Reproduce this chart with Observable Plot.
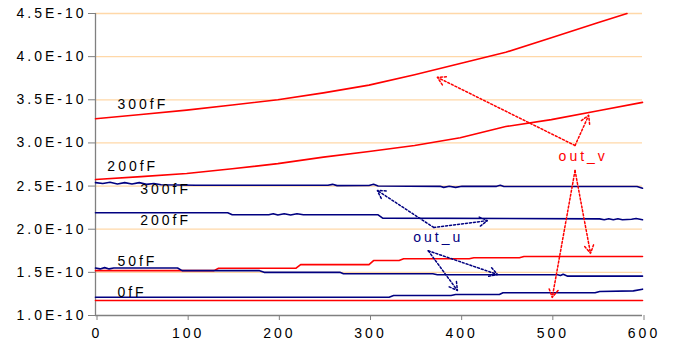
<!DOCTYPE html>
<html>
<head>
<meta charset="utf-8">
<script src="https://cdn.jsdelivr.net/npm/d3@7"></script>
<script src="https://cdn.jsdelivr.net/npm/@observablehq/plot@0.6"></script>
<style>
  html, body { margin: 0; padding: 0; background: #fff; }
  #chart svg { display: block; }
  #chart svg text { letter-spacing: 3px; }
</style>
</head>
<body>
<div id="chart"></div>
<script>
// Values in units of 1E-10
const yTicks = [1.0, 1.5, 2.0, 2.5, 3.0, 3.5, 4.0, 4.5];
const xTicks = [0, 100, 200, 300, 400, 500, 600];

// out_v (red) series: [x, y]
const outV300 = [[0,3.28],[50,3.33],[100,3.38],[150,3.44],[200,3.50],[250,3.58],[300,3.67],[350,3.79],[400,3.92],[450,4.05],[500,4.22],[550,4.39],[583,4.50]];
const outV200 = [[0,2.576],[50,2.61],[100,2.645],[150,2.70],[200,2.76],[250,2.835],[300,2.90],[350,2.97],[400,3.06],[450,3.19],[500,3.27],[550,3.37],[600,3.47]];
const outV50 = [[0,1.52],[130,1.52],[135,1.548],[220,1.548],[225,1.59],[300,1.59],[305,1.637],[333,1.637],[338,1.657],[410,1.657],[415,1.669],[465,1.669],[470,1.684],[600,1.684]];
const outV0 = [[0,1.174],[600,1.174]];

// out_u (navy) series: [x, y]
const outU300 = [[0,2.54],[8,2.53],[16,2.545],[24,2.525],[32,2.54],[40,2.525],[48,2.54],[56,2.52],[64,2.53],[72,2.515],[110,2.51],[255,2.51],[260,2.52],[265,2.505],[300,2.507],[305,2.52],[310,2.50],[378,2.497],[382,2.485],[388,2.497],[395,2.485],[402,2.497],[440,2.497],[444,2.51],[448,2.495],[594,2.495],[600,2.475]];
const outU200 = [[0,2.19],[145,2.19],[150,2.167],[190,2.167],[195,2.18],[200,2.165],[207,2.18],[214,2.165],[221,2.18],[228,2.167],[310,2.167],[315,2.128],[553,2.12],[558,2.11],[563,2.122],[568,2.11],[573,2.122],[578,2.11],[588,2.115],[593,2.125],[600,2.11]];
const outU50 = [[0,1.55],[5,1.54],[10,1.555],[15,1.54],[20,1.55],[90,1.55],[95,1.52],[180,1.52],[185,1.50],[268,1.50],[272,1.483],[370,1.483],[375,1.472],[507,1.472],[510,1.463],[513,1.478],[518,1.456],[600,1.456]];
const outU0 = [[0,1.212],[322,1.212],[327,1.232],[390,1.232],[395,1.243],[443,1.243],[447,1.263],[548,1.263],[553,1.278],[590,1.285],[600,1.305]];

// Curve labels: [x, y, text]
const curveLabels = [[24,3.445,"300fF"],[13,2.727,"200fF"],[49,2.46,"300fF"],[49,2.10,"200fF"],[24,1.626,"50fF"],[24,1.267,"0fF"]];

// Annotation labels and arrows: [x1, y1, x2, y2]
const annV = [[535,2.84,"out_v"]];
const annU = [[376,1.90,"out_u"]];
const arrowsV = [[526,2.97,375,3.76],[526,2.97,541,3.32],[526,2.68,543,1.72],[526,2.68,501,1.21]];
const arrowsU = [[371,2.02,309,2.45],[371,2.02,430,2.10],[365,1.75,441,1.475],[365,1.75,397,1.29]];

const RED = "#ff0000", NAVY = "#000080";
const toRows = (arr, s) => arr.map(([x, y]) => ({x, y, s}));
const series = [
  ...toRows(outV300, "v300"), ...toRows(outV200, "v200"), ...toRows(outV50, "v50"), ...toRows(outV0, "v0"),
  ...toRows(outU300, "u300"), ...toRows(outU200, "u200"), ...toRows(outU50, "u50"), ...toRows(outU0, "u0")
];
const colorOf = s => s[0] === "v" ? RED : NAVY;
const arrowRows = (arr, c) => arr.map(([x1, y1, x2, y2]) => ({x1, y1, x2, y2, c}));

const font = "'Liberation Sans', Arial, sans-serif";

const chart = Plot.plot({
  width: 673,
  height: 349,
  marginLeft: 95,
  marginRight: 31,
  marginTop: 13,
  marginBottom: 34,
  style: {fontFamily: font, fontSize: "14px", color: "#000", background: "#fff", overflow: "visible"},
  x: {domain: [0, 600], ticks: xTicks},
  y: {domain: [1.0, 4.5], ticks: yTicks},
  marks: [
    Plot.gridY(yTicks.filter(d => d > 1.0), {stroke: "#ffd8a8", strokeOpacity: 1, strokeWidth: 1.3}),
    Plot.axisY(yTicks, {tickSize: 7, tickPadding: 2, stroke: "#808080", fill: "#000", tickFormat: d => d.toFixed(1) + "E-10", label: null, fontSize: 14}),
    Plot.axisX(xTicks, {tickSize: 5, tickPadding: 8, stroke: "#808080", fill: "#000", tickFormat: d => String(d), label: null, fontSize: 14, dx: 1.5}),
    Plot.ruleX([0], {stroke: "#808080", strokeWidth: 1.3}),
    Plot.ruleY([1.0], {stroke: "#808080", strokeWidth: 1.3}),
    Plot.line(series, {x: "x", y: "y", z: "s", stroke: d => colorOf(d.s), strokeWidth: 1.6}),
    Plot.arrow(arrowRows(arrowsV, RED), {x1: "x1", y1: "y1", x2: "x2", y2: "y2", stroke: "c", strokeWidth: 1.5, strokeDasharray: "2,2", headLength: 9}),
    Plot.arrow(arrowRows(arrowsU, NAVY), {x1: "x1", y1: "y1", x2: "x2", y2: "y2", stroke: "c", strokeWidth: 1.5, strokeDasharray: "2,2", headLength: 9}),
    Plot.text(curveLabels, {x: d => d[0], y: d => d[1], text: d => d[2], textAnchor: "start", lineAnchor: "middle", fill: "#000", fontSize: 14}),
    Plot.text(annV, {x: d => d[0], y: d => d[1], text: d => d[2], textAnchor: "middle", lineAnchor: "middle", fill: RED, fontSize: 14}),
    Plot.text(annU, {x: d => d[0], y: d => d[1], text: d => d[2], textAnchor: "middle", lineAnchor: "middle", fill: NAVY, fontSize: 14})
  ]
});
document.getElementById("chart").appendChild(chart);
</script>
</body>
</html>
